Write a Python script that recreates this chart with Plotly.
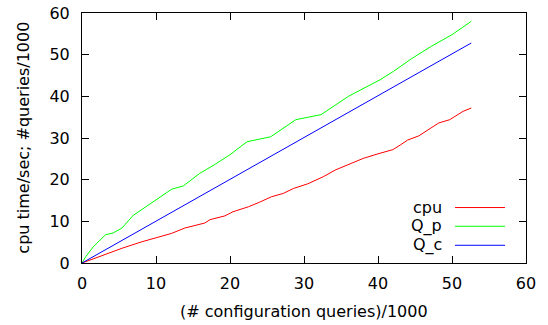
import plotly.graph_objects as go

cpu_x = [0, 1.5, 3.6, 5.5, 8.1, 10, 12.1, 13.9, 16.6, 17.3, 19.3, 20.4, 22.5, 24, 25.6, 27.2, 28.6, 30.5,
         32.6, 34.2, 36, 38, 40, 42, 43, 44, 45.5, 47, 48.2, 49.7, 51.5, 52.6]
cpu_y = [0, 1.0, 2.4, 3.6, 5.1, 6.0, 7.1, 8.4, 9.6, 10.4, 11.3, 12.3, 13.5, 14.6, 15.9, 16.7, 17.9, 19.0,
         20.7, 22.3, 23.6, 25.1, 26.2, 27.2, 28.3, 29.5, 30.5, 32.2, 33.6, 34.4, 36.4, 37.2]
qp_x = [0, 0.5, 1.5, 3.2, 4.2, 5.4, 6.9, 9, 12.1, 13.7, 15.9, 18, 20, 22.3, 25.5, 28.9, 32.3, 36,
        40.3, 42.1, 44.5, 47.2, 50, 52.6]
qp_y = [0, 1.5, 3.85, 6.8, 7.2, 8.4, 11.4, 14, 17.7, 18.5, 21.5, 23.7, 26, 29.1, 30.3, 34.4, 35.6, 40,
        44, 46, 49, 52, 54.8, 58]
qc_x = [0, 52.6]
qc_y = [0, 52.8]

names = ["cpu", "Q_p", "Q_c"]
colors = ["#ff0000", "#00ff00", "#0000ff"]
series = [(cpu_x, cpu_y), (qp_x, qp_y), (qc_x, qc_y)]

FONT = "DejaVu Sans"
FS = 16
L, R, T, B = 82, 526, 13, 262.7
PW, PH = R - L, B - T


def px(x):
    return (x - L) / PW


def py(y):
    return (B - y) / PH


fig = go.Figure()
for (xs, ys), n, c in zip(series, names, colors):
    fig.add_trace(go.Scatter(x=xs, y=ys, mode="lines", name=n, showlegend=False,
                             line=dict(color=c, width=1)))

# legend drawn in gnuplot style (text right-aligned, sample line on the right)
leg_y = [207.3, 226, 245]
for n, c, ly in zip(names, colors, leg_y):
    fig.add_annotation(xref="paper", yref="paper", x=px(444), y=py(ly), text=n,
                       showarrow=False, xanchor="right", yanchor="middle",
                       font=dict(family=FONT, size=FS, color="black"))
    fig.add_shape(type="line", xref="paper", yref="paper", x0=px(455), x1=px(505),
                  y0=py(ly), y1=py(ly), line=dict(color=c, width=1))

# axis titles
fig.add_annotation(xref="paper", yref="paper", x=px(304), y=py(311), text="(# configuration queries)/1000",
                   showarrow=False, xanchor="center", yanchor="middle",
                   font=dict(family=FONT, size=FS, color="black"))
fig.add_annotation(xref="paper", yref="paper", x=px(24), y=py(137.5), text="cpu time/sec; #queries/1000",
                   showarrow=False, xanchor="center", yanchor="middle", textangle=-90,
                   font=dict(family=FONT, size=FS, color="black"))

axis_common = dict(showgrid=False, zeroline=False, showline=True, linecolor="black", linewidth=1,
                   mirror="ticks", ticks="inside", ticklen=7, tickcolor="black", tickwidth=1,
                   automargin=False, tickfont=dict(family=FONT, size=FS, color="black"))
fig.update_xaxes(range=[0, 60], dtick=10, ticklabelstandoff=6, **axis_common)
fig.update_yaxes(range=[0, 60], dtick=10, ticklabelstandoff=8, **axis_common)
fig.update_layout(width=548, height=325, margin=dict(l=L, r=548 - R, t=T, b=325 - B),
                  plot_bgcolor="white", paper_bgcolor="white",
                  font=dict(family=FONT, size=FS, color="black"))
fig.write_html("out.html")
